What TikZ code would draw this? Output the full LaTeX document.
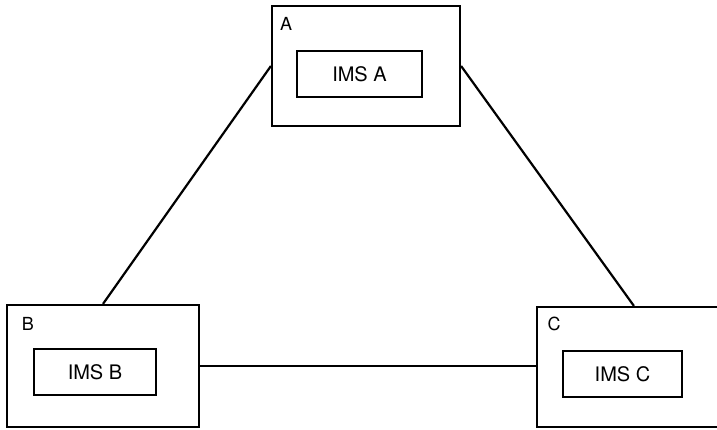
\documentclass[tikz,border=0pt]{standalone}
\usepackage{fontspec}
\setmainfont{TeX Gyre Heros}
\begin{document}
\begin{tikzpicture}[x=1pt,y=-1pt,
  outerbox/.style={draw, line width=2.2pt, inner sep=0pt, fill=white},
  innerbox/.style={draw, line width=2.2pt, inner sep=0pt, font=\fontsize{20}{20}\selectfont},
  sitelabel/.style={inner sep=0pt, font=\fontsize{18}{18}\selectfont},
  link/.style={line width=2.2pt}]
\useasboundingbox (0,0) rectangle (717,429);
\clip (0,0) rectangle (717,429);
\node[outerbox, minimum width=188pt, minimum height=120pt] (A) at (366,66) {};
\node[outerbox, minimum width=192pt, minimum height=122pt] (B) at (103,366) {};
\node[outerbox, minimum width=210pt, minimum height=120pt] (C) at (642,367) {};
\node[innerbox, minimum width=125pt, minimum height=46pt] (IA) at (359.5,74) {IMS A};
\node[innerbox, minimum width=122pt, minimum height=46pt] (IB) at (95,372) {IMS B};
\node[innerbox, minimum width=119pt, minimum height=46pt] (IC) at (622.5,374) {IMS C};
\node[sitelabel] (LA) at (286,24) {A};
\node[sitelabel] (LB) at (28,324) {B};
\node[sitelabel] (LC) at (554,324) {C};
\coordinate (Ctop) at ([xshift=98pt]C.north west);
\draw[link] (A.west) -- (B.north);
\draw[link] (A.east) -- (Ctop);
\draw[link] (B.east) -- (B.east -| C.west);
\end{tikzpicture}
\end{document}
